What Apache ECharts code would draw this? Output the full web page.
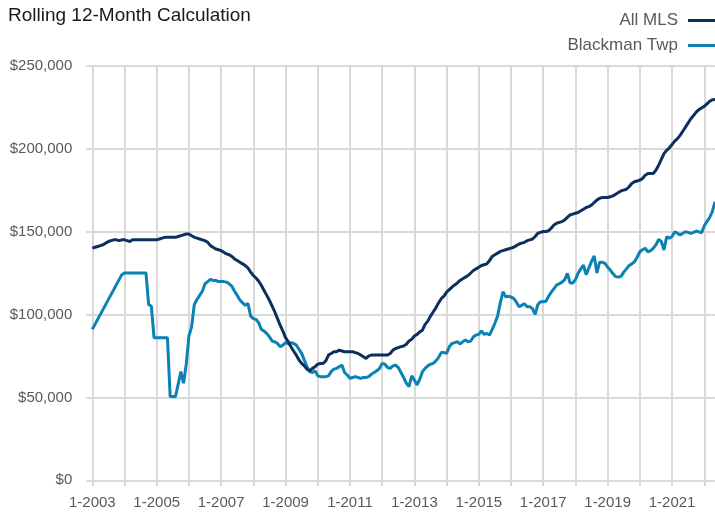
<!DOCTYPE html>
<html>
<head>
<meta charset="utf-8">
<script src="https://cdn.jsdelivr.net/npm/echarts@6/dist/echarts.min.js"></script>
<style>html,body{margin:0;padding:0;background:#fff}#c{width:715px;height:515px}</style>
</head>
<body>
<div id="c"></div>
<script>
// ---- data ----
const startYear = 2003;
const monthCount = 233; // 1-2003 .. 5-2022
const categories = [];
for (let i = 0; i < monthCount; i++) {
  categories.push(((i % 12) + 1) + '-' + (startYear + Math.floor(i / 12)));
}
const tickLabels = ['1-2003','1-2005','1-2007','1-2009','1-2011','1-2013','1-2015','1-2017','1-2019','1-2021'];
const yTicks = [0, 50000, 100000, 150000, 200000, 250000];

// All MLS (thousands of $)
const allMLS = [
  140.0,140.5,141,141.5,142,143,144,144.5,145,145,144.5,145,
  145,144.5,144,145,145,145,145,145,145,145,145,145,
  145,145.5,146,146.5,146.5,146.5,146.5,146.5,147,147.5,148,148.5,
  148.5,147.5,146.5,146,145.5,145,144.5,143.5,141.5,140.5,139.5,139,
  138.5,137.5,136.5,136,135,133.5,132.5,131.5,130.5,129.5,128,125.5,
  123.5,122,120,117.5,114.5,111.5,108.5,105,101.5,97.5,93.5,90,
  86,83.5,80.5,78,75.5,72.5,70.5,69,67,66,67.5,68.5,
  70,70.5,70.5,72,75.5,76.5,77.5,77.5,78.5,78,77.5,77.5,
  77.5,77.5,77,76.5,75.5,74.5,73.5,75,75.5,75.5,75.5,75.5,
  75.5,75.5,75.5,76.5,78.5,79.5,80,80.6,81,82,84,85,
  87,88,89.5,90.5,94,96,99,101.5,104,107,109.5,111,
  113.5,115,116.5,117.8,119,120.5,121.5,122.5,123.5,125,126.5,127.5,
  128.5,129.5,130,130.5,132.5,135,136,137,138,138.5,139,139.5,
  140,140.5,141.5,142.5,143,143.5,144.5,145,145.5,147,149,149.5,
  150,150,150.5,152,154,155,155.5,156,157,158.5,160,160.5,
  161,161.5,162.5,163.5,164.5,165,166,167.5,169,170,170.5,170.5,
  170.5,171,171.5,172.5,173.5,174.5,175,175.5,177,179,180,180.5,
  181,182,184,185,185,185,187,190,193.5,197,199,200.5,
  202.5,204.5,206,208,210.5,213,215.5,218,220,222,223.5,224.5,
  225.5,227,228.5,229.5,229.7
];

// Blackman Twp (thousands of $); null = no reading, line drawn straight across
const blackman = [
  91,null,null,null,null,null,null,null,null,null,null,124,
  125,125,125,125,125,125,125,125,125,106,105,86,
  86,86,86,86,86,50.5,50.5,50.5,58,65.5,58.5,70,
  87,92.5,106,109,111.5,114,118.5,119.8,121.2,120.5,120.5,119.8,
  119.8,119.8,119.5,118.5,117,114,111.5,108.7,107,105.5,106.7,99,
  97.5,97,95,91,90,88.5,86.5,84,83.5,82.5,80.5,81.5,
  83,82.5,83,82.5,81.5,79,76.5,72.5,68.5,65.5,65,66,
  63,62.5,62.5,62.5,63,65.5,67,67.5,68.5,69.5,65,63.5,
  61.5,62,62.5,62,61.5,62,62,62.5,64,65,66,67.5,
  70.5,70,68,67.5,69,69.5,68,65,62,58.5,56.5,63,
  60.5,57.5,61,65.5,67.5,69,70,70.5,72,74,77,77,
  76.5,80.5,82.5,83,83.6,82.2,83.5,84.6,83.5,84,86.5,87.6,
  88,90,88,88.5,87.6,91,94.7,99,107,113.7,110.7,111,
  110.5,109.7,107.5,104.7,105.5,106.5,104.7,104.7,103.5,100,106,107.7,
  107.7,108,111,113.5,115.5,117.8,118.5,119.5,121,124.8,119,119,
  121,124.8,127.5,129.8,124,128,132,135.3,125,131.5,131.5,130.8,
  128.5,126.8,124.5,122.8,122.5,123,125.5,127.5,129.5,130.5,131.8,134.5,
  137.8,139,139.9,137.8,138.5,139.9,142,145.3,144,138.9,146.9,146,
  147,149.9,149,147.9,149,149.9,149.5,148.9,149.5,150.3,149.8,149.3,
  153.5,156,158.5,162,168
];

const seriesNames = ['All MLS', 'Blackman Twp'];
const seriesColors = ['#0d2f5e', '#0a82b4'];

const toDollars = arr => arr.map(v => v == null ? null : Math.round(v * 1000));

// ---- chart ----
const FONT = '"Liberation Sans", Arial, sans-serif';
const GRID = '#d9d9d9';
const chart = echarts.init(document.getElementById('c'), null, {renderer: 'canvas'});
chart.setOption({
  animation: false,
  backgroundColor: '#ffffff',
  title: {
    text: 'Rolling 12-Month Calculation',
    left: 3, top: 1,
    textStyle: {fontFamily: FONT, fontSize: 19, fontWeight: 'normal', color: '#1a1a1a'}
  },
  legend: {
    orient: 'vertical',
    right: 0, top: 7,
    padding: [5, 0, 5, 5],
    align: 'right',
    itemWidth: 27, itemHeight: 3, itemGap: 8,
    icon: 'rect',
    textStyle: {fontFamily: FONT, fontSize: 17, color: '#595959', padding: [0, 5, 0, 0]},
    data: seriesNames
  },
  grid: {left: 92.3, right: 0, top: 65.7, bottom: 34.7, containLabel: false},
  xAxis: {
    type: 'category',
    data: categories,
    boundaryGap: false,
    axisLine: {show: true, lineStyle: {color: GRID, width: 2}},
    axisTick: {show: true, length: 6, lineStyle: {color: GRID, width: 2},
      interval: (i) => i % 12 === 0},
    splitLine: {show: true, lineStyle: {color: GRID, width: 2},
      interval: (i) => i % 12 === 0},
    axisLabel: {
      interval: (i, v) => tickLabels.indexOf(v) !== -1,
      margin: 15,
      fontFamily: FONT, fontSize: 15, color: '#595959'
    }
  },
  yAxis: {
    type: 'value',
    min: yTicks[0], max: yTicks[yTicks.length - 1], interval: 50000,
    axisLine: {show: false},
    axisTick: {show: true, length: 6, lineStyle: {color: GRID, width: 2}},
    splitLine: {show: true, lineStyle: {color: GRID, width: 2}},
    axisLabel: {
      margin: 20,
      fontFamily: FONT, fontSize: 15, color: '#595959',
      formatter: v => '$' + v.toLocaleString('en-US')
    }
  },
  series: [
    {name: seriesNames[0], type: 'line', data: toDollars(allMLS), symbol: 'none',
     color: seriesColors[0], lineStyle: {width: 3, color: seriesColors[0]}, z: 3},
    {name: seriesNames[1], type: 'line', data: toDollars(blackman), symbol: 'none',
     connectNulls: true,
     color: seriesColors[1], lineStyle: {width: 3, color: seriesColors[1]}, z: 2}
  ]
});
</script>
</body>
</html>
